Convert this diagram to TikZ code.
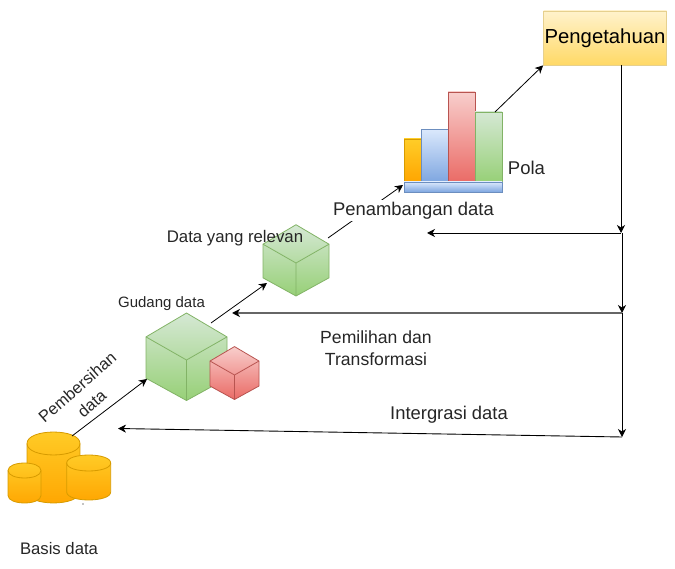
\documentclass[tikz,border=0pt]{standalone}
\usepackage{fontspec}
\setmainfont{Liberation Sans}
\usetikzlibrary{arrows.meta, positioning}

\definecolor{goldtop}{HTML}{FFF2CC}
\definecolor{goldbot}{HTML}{FFD966}
\definecolor{goldline}{HTML}{E6D08E}
\definecolor{greentop}{HTML}{D5E8D4}
\definecolor{greenbot}{HTML}{97D077}
\definecolor{greenline}{HTML}{82B366}
\definecolor{redtop}{HTML}{F8CECC}
\definecolor{redbot}{HTML}{EA6B66}
\definecolor{redline}{HTML}{B85450}
\definecolor{bluetop}{HTML}{DAE8FC}
\definecolor{bluebot}{HTML}{7EA6E0}
\definecolor{blueline}{HTML}{6C8EBF}
\definecolor{orangetop}{HTML}{FFCD28}
\definecolor{orangebot}{HTML}{FFA500}
\definecolor{orangeline}{HTML}{D79B00}

\newcommand{\cube}[4]{
	\begin{scope}[shift={(#2,#3)}, scale=#4]
		\draw[#1_shape] (0,-1.16) -- (1,-0.57) -- (1,0.45) -- (0,1) -- (-1,0.45) -- (-1,-0.57) -- cycle;
		\draw[draw=#1line, thick] (-1,-0.57) -- (0,0) -- (1,-0.57) (0,0) -- (0,1);
	\end{scope}
}
\newcommand{\cyl}[5]{
	\begin{scope}[shift={(#1,#2)}]
		\draw[orange_shape] (-#3,0) -- (-#3,#4) .. controls (-#3,#4+1.33*#5) and (#3,#4+1.33*#5) .. (#3,#4) -- (#3,0) .. controls (#3,-1.33*#5) and (-#3,-1.33*#5) .. cycle;
		\draw[draw=orangeline, thick] (-#3,0) .. controls (-#3,1.33*#5) and (#3,1.33*#5) .. (#3,0);
	\end{scope}
}

\begin{document}
\begin{tikzpicture}[
		x=1pt, y=-1pt,
		>={Stealth[length=8pt, width=8pt, inset=2.5pt]},
		green_shape/.style={draw=greenline, thick, top color=greentop, bottom color=greenbot},
		red_shape/.style={draw=redline, thick, top color=redtop, bottom color=redbot},
		blue_shape/.style={draw=blueline, thick, top color=bluetop, bottom color=bluebot},
		orange_shape/.style={draw=orangeline, thick, top color=orangetop, bottom color=orangebot},
		link/.style={->, line width=0.8pt, black},
		flow/.style={->, line width=0.9pt, black},
		label/.style={inner sep=0pt, align=center, text=black!85}]

	\useasboundingbox (0,0) rectangle (675,569);

	% basis data
	\cyl{53.5}{443.5}{26.5}{48}{11.5}
	\cyl{24.5}{470.5}{16.5}{25}{7.5}
	\cyl{88.7}{463}{22}{29}{8}
	\fill[black] (83,504) circle (0.7);

	% kubus
	\cube{green}{186.5}{360}{40.5}
	\cube{red}{234.5}{375}{24.5}
	\cube{green}{296}{263}{33}

	% pola
	\draw[orange_shape] (404,139) rectangle (421.5,182);
	\draw[blue_shape] (421.5,129.5) rectangle (448,182);
	\draw[red_shape] (448,92) rectangle (475,182);
	\draw[green_shape] (475,112) rectangle (502,182);
	\draw[blue_shape] (404,182) rectangle (502,192);

	\node[draw=goldline, thick, top color=goldtop, bottom color=goldbot, inner sep=0pt, minimum width=123pt, minimum height=54pt, font=\fontsize{20.3}{24}\selectfont] (pengetahuan) at (605,38) {Pengetahuan};

	\coordinate (db_out) at (72,436);
	\coordinate (gudang_in) at (147,379);
	\coordinate (gudang_out) at (211,323);
	\coordinate (relevan_in) at (267,283);
	\coordinate (relevan_out) at (328,238);
	\coordinate (pola_in) at (403,185);
	\coordinate (pola_out) at (495,112);
	\coordinate (box_out) at (621,65);
	\coordinate (split_a) at (621,233);
	\coordinate (split_b) at (622,313);
	\coordinate (split_c) at (622,437);
	\coordinate (back_a) at (427,233);
	\coordinate (back_b) at (232,313);
	\coordinate (back_c) at (118,428.5);

	\draw[link] (db_out) -- (gudang_in);
	\draw[link] (gudang_out) -- (relevan_in);
	\draw[link] (relevan_out) -- (pola_in);
	\draw[link] (pola_out) -- (pengetahuan.south west);

	\draw[flow] (box_out) -- (split_a);
	\draw[flow] (split_a) -- (back_a);
	\draw[flow] (split_a -| split_b) -- (split_b);
	\draw[flow, line width=1.4pt, black!60, {Stealth[length=8pt, width=8pt, inset=2.5pt, black]}-] (back_b) -- (split_b);
	\draw[flow] (split_b) -- (split_c);
	\draw[flow] (split_c) -- (back_c);

	\node[label, fill=white, inner ysep=2pt, font=\fontsize{18.4}{22}\selectfont] (penambangan) at (413.5,210.5) {Penambangan data};
	\node[label, font=\fontsize{18.5}{22}\selectfont] (pola) at (526.5,168) {Pola};
	\node[label, font=\fontsize{16.8}{20}\selectfont] (relevan) at (235,238) {Data yang relevan};
	\node[label, font=\fontsize{15}{18}\selectfont] (gudang) at (161.5,304) {Gudang data};
	\node[label, font=\fontsize{17.6}{22}\selectfont] (pemilihan) at (376,348.5) {Pemilihan dan\\Transformasi};
	\node[label, font=\fontsize{18.4}{21}\selectfont] (intergrasi) at (449,415) {Intergrasi data};
	\node[label, rotate=41, font=\fontsize{16.4}{22}\selectfont] (pembersihan) at (84.5,395.5) {Pembersihan\\data};
	\node[label, font=\fontsize{16.7}{20}\selectfont] (basis) at (59,549) {Basis data};
\end{tikzpicture}
\end{document}
